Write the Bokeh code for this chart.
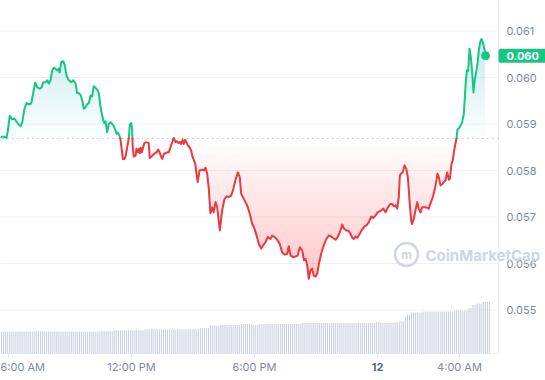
import numpy as np
from bokeh.plotting import figure
from bokeh.models import Range1d, Label
from bokeh.core.properties import value
from bokeh.embed import file_html
from bokeh.resources import INLINE

# ---------------- data ----------------
# time in hours since midnight of the first day (24 = midnight "12", 28 = 4:00 AM next day)
times = [
    5.61, 5.77, 5.90, 5.97, 6.06, 6.18, 6.29, 6.39, 6.50, 6.59,
    6.67, 6.78, 6.88, 6.99, 7.11, 7.21, 7.30, 7.40, 7.53, 7.62,
    7.69, 7.81, 7.89, 7.97, 8.05, 8.13, 8.21, 8.29, 8.38, 8.45,
    8.50, 8.57, 8.67, 8.75, 8.83, 8.94, 9.06, 9.16, 9.27, 9.35,
    9.43, 9.51, 9.60, 9.67, 9.76, 9.84, 9.92, 10.00, 10.08, 10.16,
    10.24, 10.33, 10.41, 10.49, 10.62, 10.68, 10.73, 10.81, 10.89, 10.98,
    11.06, 11.14, 11.22, 11.27, 11.33, 11.41, 11.46, 11.51, 11.58, 11.66,
    11.72, 11.79, 11.87, 11.92, 11.99, 12.03, 12.06, 12.11, 12.20, 12.24,
    12.31, 12.36, 12.41, 12.45, 12.50, 12.57, 12.63, 12.73, 12.84, 12.89,
    12.98, 13.06, 13.14, 13.22, 13.30, 13.37, 13.45, 13.50, 13.58, 13.66,
    13.74, 13.82, 13.90, 13.99, 14.06, 14.15, 14.23, 14.29, 14.36, 14.42,
    14.49, 14.55, 14.62, 14.68, 14.75, 14.83, 14.91, 14.98, 15.04, 15.11,
    15.16, 15.23, 15.32, 15.45, 15.53, 15.61, 15.69, 15.77, 15.85, 15.94,
    16.01, 16.10, 16.18, 16.31, 16.42, 16.54, 16.63, 16.75, 16.86, 16.96,
    17.07, 17.19, 17.28, 17.35, 17.48, 17.64, 17.77, 17.89, 18.00, 18.10,
    18.21, 18.33, 18.42, 18.54, 18.65, 18.78, 18.86, 18.98, 19.11, 19.23,
    19.35, 19.46, 19.60, 19.67, 19.76, 19.89, 20.00, 20.11, 20.21, 20.33,
    20.41, 20.49, 20.57, 20.65, 20.73, 20.81, 20.89, 20.98, 21.06, 21.14,
    21.25, 21.38, 21.51, 21.62, 21.74, 21.84, 21.95, 22.06, 22.16, 22.28,
    22.36, 22.49, 22.60, 22.68, 22.77, 22.84, 22.93, 23.01, 23.14, 23.25,
    23.37, 23.46, 23.58, 23.69, 23.79, 23.90, 24.01, 24.15, 24.28, 24.39,
    24.50, 24.63, 24.72, 24.80, 24.88, 24.96, 25.04, 25.09, 25.16, 25.23,
    25.32, 25.40, 25.48, 25.56, 25.64, 25.69, 25.77, 25.85, 25.94, 26.01,
    26.10, 26.18, 26.31, 26.42, 26.50, 26.59, 26.70, 26.80, 26.86, 26.93,
    26.99, 27.07, 27.16, 27.23, 27.32, 27.40, 27.48, 27.53, 27.61, 27.67,
    27.74, 27.80, 27.85, 27.90, 27.97, 28.05, 28.13, 28.21, 28.26, 28.31,
    28.36, 28.42, 28.49, 28.55, 28.62, 28.68, 28.75, 28.81, 28.88, 28.94,
    29.01, 29.07, 29.14, 29.21, 29.27,
]

price = [
    0.05872, 0.05873, 0.05870, 0.05886, 0.05918, 0.05910, 0.05912, 0.05905, 0.05899, 0.05895,
    0.05904, 0.05933, 0.05945, 0.05942, 0.05944, 0.05968, 0.05989, 0.05979, 0.05976, 0.05979,
    0.05990, 0.05990, 0.05994, 0.05987, 0.05994, 0.06015, 0.06021, 0.06019, 0.06015, 0.06019,
    0.06011, 0.06033, 0.06035, 0.06026, 0.06004, 0.05994, 0.05990, 0.05994, 0.05987, 0.05966,
    0.05966, 0.05963, 0.05951, 0.05933, 0.05936, 0.05943, 0.05945, 0.05961, 0.05959, 0.05981,
    0.05978, 0.05974, 0.05966, 0.05936, 0.05908, 0.05902, 0.05906, 0.05882, 0.05900, 0.05904,
    0.05900, 0.05895, 0.05886, 0.05879, 0.05882, 0.05875, 0.05868, 0.05850, 0.05825, 0.05825,
    0.05832, 0.05850, 0.05870, 0.05899, 0.05902, 0.05890, 0.05850, 0.05830, 0.05832, 0.05847,
    0.05839, 0.05847, 0.05837, 0.05849, 0.05839, 0.05850, 0.05859, 0.05861, 0.05859, 0.05827,
    0.05830, 0.05834, 0.05837, 0.05839, 0.05845, 0.05839, 0.05829, 0.05825, 0.05836, 0.05837,
    0.05839, 0.05839, 0.05850, 0.05861, 0.05870, 0.05861, 0.05863, 0.05859, 0.05861, 0.05857,
    0.05866, 0.05857, 0.05866, 0.05861, 0.05854, 0.05850, 0.05843, 0.05829, 0.05823, 0.05814,
    0.05796, 0.05775, 0.05800, 0.05802, 0.05800, 0.05806, 0.05794, 0.05761, 0.05708, 0.05721,
    0.05710, 0.05732, 0.05721, 0.05671, 0.05714, 0.05739, 0.05744, 0.05743, 0.05746, 0.05759,
    0.05779, 0.05796, 0.05786, 0.05750, 0.05739, 0.05725, 0.05707, 0.05685, 0.05675, 0.05660,
    0.05642, 0.05632, 0.05639, 0.05646, 0.05657, 0.05653, 0.05660, 0.05657, 0.05651, 0.05642,
    0.05624, 0.05619, 0.05621, 0.05637, 0.05617, 0.05614, 0.05615, 0.05617, 0.05635, 0.05628,
    0.05607, 0.05610, 0.05596, 0.05567, 0.05585, 0.05589, 0.05574, 0.05572, 0.05578, 0.05599,
    0.05621, 0.05639, 0.05653, 0.05660, 0.05658, 0.05655, 0.05651, 0.05657, 0.05667, 0.05684,
    0.05675, 0.05671, 0.05670, 0.05664, 0.05655, 0.05653, 0.05658, 0.05655, 0.05664, 0.05673,
    0.05680, 0.05682, 0.05689, 0.05701, 0.05698, 0.05703, 0.05710, 0.05713, 0.05718, 0.05710,
    0.05720, 0.05728, 0.05728, 0.05723, 0.05725, 0.05718, 0.05743, 0.05789, 0.05794, 0.05796,
    0.05811, 0.05804, 0.05786, 0.05736, 0.05693, 0.05685, 0.05696, 0.05714, 0.05732, 0.05718,
    0.05710, 0.05721, 0.05721, 0.05720, 0.05718, 0.05730, 0.05743, 0.05761, 0.05775, 0.05793,
    0.05786, 0.05768, 0.05771, 0.05775, 0.05779, 0.05796, 0.05780, 0.05782, 0.05814, 0.05822,
    0.05843, 0.05857, 0.05868, 0.05888, 0.05891, 0.05897, 0.05904, 0.05922, 0.05958, 0.05994,
    0.06015, 0.06014, 0.06062, 0.06044, 0.06011, 0.05968, 0.05997, 0.06011, 0.06029, 0.06058,
    0.06076, 0.06083, 0.06076, 0.06062, 0.06047,
]

open_price = 0.05869          # reference (opening) price, dotted line

# 24h volume bars, one every 6 minutes (arbitrary units, M)
vol_start = 5.66
vol_step = 0.1
volume = [
    4.4, 4.4, 4.4, 4.4, 4.4, 4.4, 4.4, 4.4, 4.4, 4.4, 4.4, 4.4, 4.4, 4.4, 4.4, 4.4, 4.4,
    4.46, 4.46, 4.46, 4.46,
    4.4, 4.4, 4.4, 4.4, 4.4, 4.4, 4.4, 4.4, 4.4, 4.4, 4.4, 4.4, 4.4, 4.4,
    4.4, 4.4, 4.4, 4.4, 4.4, 4.4, 4.4, 4.4, 4.4, 4.4, 4.4, 4.4, 4.4, 4.4,
    4.44, 4.44, 4.44, 4.44, 4.44, 4.44,
    4.66, 4.66, 4.66, 4.66, 4.66, 4.66, 4.66, 4.66, 4.66, 4.66, 4.66, 4.66, 4.66, 4.66, 4.66,
    4.86, 4.86, 4.86, 4.86, 4.86, 4.86, 4.86, 4.86, 4.86, 4.86, 4.86, 4.86, 4.86, 4.86,
    4.86, 4.86, 4.86, 4.86, 4.86, 4.86, 4.86, 4.86, 4.86, 4.86, 4.86, 4.86, 4.86,
    5.08, 5.08, 5.08, 5.08, 5.08,
    5.56, 5.56, 5.56, 5.56, 5.56,
    5.7, 5.7, 5.7, 5.7, 5.7, 5.7, 5.7, 5.7, 5.7, 5.7,
    5.92, 5.92, 5.92, 5.92, 5.92, 5.92,
    5.7, 5.7, 5.7,
    5.92, 5.92, 5.92, 5.92, 5.92, 5.92, 5.92, 5.92, 5.92, 5.92, 5.92,
    5.92, 5.92, 5.92, 5.92, 5.92, 5.92, 5.92, 5.92, 5.92, 5.92,
    6.12, 6.12, 6.12, 6.12, 6.12, 6.12, 6.12, 6.12, 6.12, 6.12, 6.12, 6.12,
    6.12, 6.12, 6.12, 6.12, 6.12, 6.12, 6.12, 6.12, 6.12, 6.12, 6.12, 6.12,
    6.12, 6.12, 6.12, 6.12, 6.12, 6.12, 6.12, 6.12, 6.12, 6.12, 6.12, 6.12,
    6.26, 6.26, 6.26,
    6.12, 6.12, 6.12, 6.12, 6.12, 6.12,
    6.26, 6.26, 6.26,
    6.46, 6.46,
    7.4,
    7.8, 7.8,
    8.2, 8.2, 8.2, 8.2, 8.2, 8.2,
    8.4, 8.4, 8.4, 8.4, 8.4, 8.4, 8.4, 8.4, 8.4, 8.4, 8.4, 8.4, 8.4, 8.4, 8.4,
    8.6, 8.6, 8.6, 8.6, 8.6, 8.6, 8.6,
    9.12, 9.12,
    9.68, 9.68,
    10.0, 10.0, 10.0,
    10.3, 10.3, 10.3, 10.3,
]

x_ticks = [6, 12, 18, 24, 28]
x_tick_labels = ["6:00 AM", "12:00 PM", "6:00 PM", "12", "4:00 AM"]
y_ticks = [0.055, 0.056, 0.057, 0.058, 0.059, 0.060, 0.061]

# ---------------- style / layout ----------------
GREEN = "#16c784"
RED = "#ea3943"
MUTED = "#808a9d"
DARK = "#58667e"
GRID = "#eff2f5"
VOLC = "#c9d1df"
WM = "#cfd5e2"
FONT = "Inter"

# the frame covers the whole canvas; the price area ends at x_area_end / y_area_bottom
x_start, x_view_end = 5.61, 32.195
y_view_bottom, y_view_top = 0.053484, 0.061656
x_area_end = 29.90
y_area_bottom = 0.054065

t_arr = np.array(times, dtype=float)
p_arr = np.array(price, dtype=float)
base = open_price

# split the line where it crosses the opening price
xs, ys = [], []
for i in range(len(t_arr)):
    xs.append(t_arr[i]); ys.append(p_arr[i])
    if i + 1 < len(t_arr):
        a, b = p_arr[i] - base, p_arr[i + 1] - base
        if a * b < 0:
            f = a / (a - b)
            xs.append(t_arr[i] + f * (t_arr[i + 1] - t_arr[i])); ys.append(base)
xs = np.array(xs); ys = np.array(ys)
up = np.where(ys >= base, ys, np.nan)
dn = np.where(ys <= base, ys, np.nan)

p = figure(width=545, height=380,
           x_range=Range1d(x_start, x_view_end), y_range=Range1d(y_view_bottom, y_view_top),
           x_axis_location=None, y_axis_location=None,
           output_backend="svg", toolbar_location=None,
           min_border=0, min_border_left=0, min_border_right=0,
           min_border_top=0, min_border_bottom=0)
p.grid.visible = False
p.outline_line_color = None
p.background_fill_color = "white"
p.border_fill_color = "white"

# horizontal grid lines (end at the price area's right edge)
p.ray(x=[x_area_end] * len(y_ticks), y=y_ticks, length=0, angle=np.pi,
      line_color=GRID, line_width=1)
# price-area right edge and bottom edge
p.ray(x=[x_area_end], y=[y_area_bottom], length=0, angle=np.pi / 2, line_color=GRID, line_width=1)
p.ray(x=[x_area_end], y=[y_area_bottom], length=0, angle=np.pi, line_color=GRID, line_width=1)
# x tick marks
p.ray(x=x_ticks, y=[y_area_bottom] * len(x_ticks), length=4, length_units="screen",
      angle=-np.pi / 2, line_color="#e3e7ee", line_width=1)

# volume bars
p.extra_y_ranges = {"vol": Range1d(-5.4, 70.6)}
vol_t = [vol_start + vol_step * i for i in range(len(volume))]
p.vbar(x=vol_t, top=volume, bottom=0, width=0.055, y_range_name="vol",
       fill_color=VOLC, line_color=None)

# gradient fills (stacked translucent layers)
N = 18
pmax, pmin = float(np.max(p_arr)), float(np.min(p_arr))
for k in range(N):
    lv = base + (pmax - base) * k / N
    p.varea(x=xs, y1=np.full(len(xs), lv), y2=np.maximum(ys, lv),
            fill_color=GREEN, fill_alpha=0.013)
    lv2 = base - (base - pmin) * k / N
    p.varea(x=xs, y1=np.full(len(xs), lv2), y2=np.minimum(ys, lv2),
            fill_color=RED, fill_alpha=0.014)

# opening-price dotted line
p.ray(x=[x_area_end], y=[base], length=0, angle=np.pi, line_color="#9aa2b1",
      line_width=1, line_dash="1 4")

p.line(xs, up, line_color=GREEN, line_width=2, line_join="round", line_cap="round")
p.line(xs, dn, line_color=RED, line_width=2, line_join="round", line_cap="round")
p.scatter([times[-1]], [price[-1]], size=8, fill_color=GREEN, line_color=GREEN)

# y tick labels (right side)
p.text(x=[x_area_end] * len(y_ticks), y=y_ticks, text=[f"{v:.3f}" for v in y_ticks],
       x_offset=8, text_align="left", text_baseline="middle",
       text_font=value(FONT), text_font_size=value("11px"), text_color=MUTED)

# x tick labels
reg = [1, 2, 4]
p.text(x=[x_ticks[i] for i in reg], y=[y_area_bottom] * len(reg),
       text=[x_tick_labels[i] for i in reg], y_offset=14,
       text_align="center", text_baseline="middle",
       text_font=value(FONT), text_font_size=value("11px"), text_color=MUTED)
p.text(x=[x_start], y=[y_area_bottom], text=[x_tick_labels[0]], y_offset=14,
       text_align="left", text_baseline="middle",
       text_font=value(FONT), text_font_size=value("11px"), text_color=MUTED)
p.text(x=[x_ticks[3]], y=[y_area_bottom], text=[x_tick_labels[3]], y_offset=14,
       text_align="center", text_baseline="middle", text_font_style="bold",
       text_font=value(FONT), text_font_size=value("11px"), text_color=DARK)

# current price tag (box starts at the price area's right edge)
p.add_layout(Label(x=x_area_end, y=price[-1], x_offset=0, text=f"{price[-1]:.3f}",
                   text_align="left", text_baseline="middle", text_font=FONT,
                   text_font_size="11px", text_font_style="bold", text_color="white",
                   background_fill_color=GREEN, border_radius=2,
                   padding=dict(left=8, right=10, top=3, bottom=3)))

# watermark
p.add_layout(Label(x=425, y=125, x_units="screen", y_units="screen", text="CoinMarketCap",
                   text_align="left", text_baseline="middle", text_font=FONT,
                   text_font_size="15px", text_font_style="bold", text_color=WM))
p.add_layout(Label(x=406, y=126, x_units="screen", y_units="screen", text="m",
                   text_align="center", text_baseline="middle", text_font=FONT,
                   text_font_size="12px", text_font_style="bold", text_color=WM,
                   border_line_color=WM, border_line_width=2.5, border_radius=12,
                   padding=dict(left=6, right=6, top=4, bottom=4)))

open("out.html", "w").write(file_html(p, INLINE))
